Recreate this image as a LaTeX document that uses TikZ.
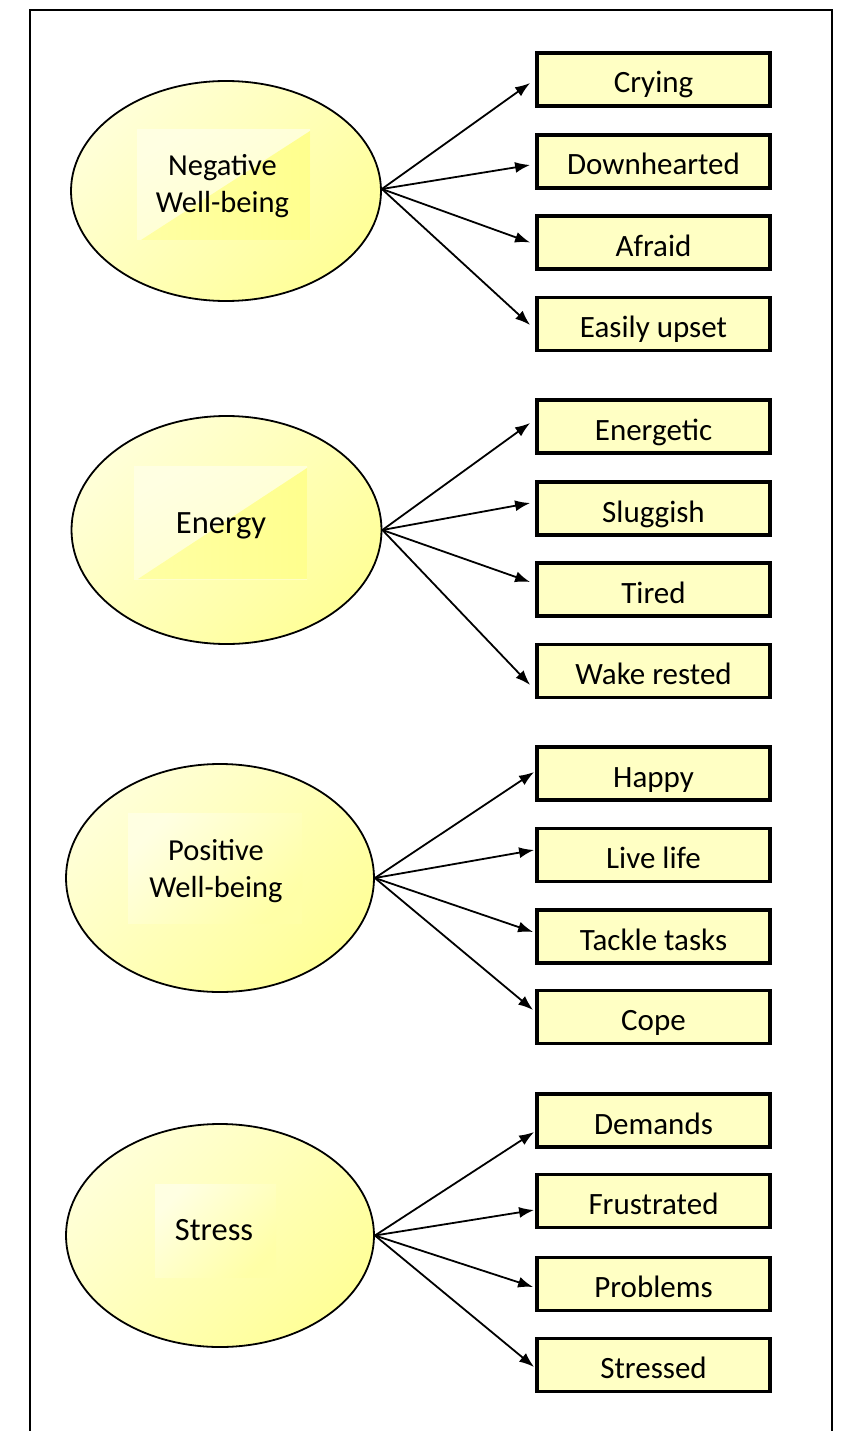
\documentclass[tikz,border=0pt]{standalone}
\usepackage{fontspec}
\setmainfont{Carlito}
\usetikzlibrary{shapes.geometric,arrows.meta}
\definecolor{boxfill}{HTML}{FFFFC4}
\definecolor{elllight}{HTML}{FFFFD8}
\definecolor{elldark}{HTML}{FFFF98}
\definecolor{rectlight}{HTML}{FFFFE2}
\definecolor{rectmid}{HTML}{FFFFCC}
\definecolor{tridark}{HTML}{FFFF8E}
\definecolor{trilight}{HTML}{FFFFA4}
\tikzset{
  framestyle/.style={line width=1.8pt, draw=black},
  latent/.style={ellipse, draw=black, line width=1.8pt, inner sep=0pt,
    top color=elllight, bottom color=elldark, shading angle=45},
  latenttext/.style={inner sep=0pt, font=\fontsize{30.5}{37}\selectfont},
  latentone/.style={inner sep=0pt, anchor=base, font=\fontsize{32.5}{38}\selectfont},
  indicator/.style={rectangle, draw=black, line width=3.8pt, fill=boxfill,
    minimum width=233pt, minimum height=53pt, inner sep=0pt,
    text height=30pt, text depth=3pt,
    font=\fontsize{31}{36}\selectfont},
  arr/.style={line width=1.8pt, -{Latex[length=15pt,width=11pt]}},
  rectdeco/.style={top color=rectlight, bottom color=rectmid, shading angle=30},
  tridecostyle/.style={left color=trilight, right color=tridark},
  softdeco/.style={top color=rectlight, bottom color=elldark!85!white, shading angle=45},
}
\begin{document}
\begin{tikzpicture}[x=1pt, y=-1pt]
\useasboundingbox (0,0) rectangle (847,1431);
\fill[white] (0,0) rectangle (847,1431);
\coordinate (fbl) at (30,1435);
\coordinate (ftl) at (30,10);
\coordinate (ftr) at (832,10);
\coordinate (fbr) at (832,1435);
\draw[framestyle] (fbl) -- (ftl) -- (ftr) -- (fbr);

% latent variables (shapes)
\node[latent, minimum width=310pt, minimum height=220pt] (e1) at (226,191) {};
\node[latent, minimum width=310pt, minimum height=228pt] (e2) at (226.5,530) {};
\node[latent, minimum width=308pt, minimum height=228pt] (e3) at (220,878) {};
\node[latent, minimum width=308pt, minimum height=223pt] (e4) at (220,1235.5) {};

% text-box backgrounds inside the ellipses
\shade[rectdeco] (137,130) rectangle (310,240);
\shade[tridecostyle] (141,240) -- (310,131) -- (310,240) -- cycle;
\shade[rectdeco] (134,466) rectangle (307,579);
\shade[tridecostyle] (138,579) -- (307,468) -- (307,579) -- cycle;
\shade[softdeco] (128,813) rectangle (302,923);
\shade[softdeco] (155,1184) rectangle (276,1277);

% latent labels
\node[latenttext] (t1) at (222.5,187) {\begin{tabular}{@{}c@{}}Negative\\Well-being\end{tabular}};
\node[latentone] (t2) at (221,533) {Energy};
\node[latenttext] (t3) at (216,871.5) {\begin{tabular}{@{}c@{}}Positive\\Well-being\end{tabular}};
\node[latentone] (t4) at (214,1240.5) {Stress};

% indicators
\node[indicator] (b1) at (653.5,79.5) {Crying};
\node[indicator] (b2) at (653.5,161.5) {Downhearted};
\node[indicator] (b3) at (653.5,242.5) {Afraid};
\node[indicator] (b4) at (653.5,324) {Easily upset};
\node[indicator] (b5) at (653.5,426.5) {Energetic};
\node[indicator] (b6) at (653.5,508.5) {Sluggish};
\node[indicator] (b7) at (653.5,589.5) {Tired};
\node[indicator] (b8) at (653.5,671) {Wake rested};
\node[indicator] (b9) at (653.5,773.5) {Happy};
\node[indicator] (b10) at (653.5,855) {Live life};
\node[indicator] (b11) at (653.5,936.5) {Tackle tasks};
\node[indicator] (b12) at (653.5,1017) {Cope};
\node[indicator] (b13) at (653.5,1120.5) {Demands};
\node[indicator] (b14) at (653.5,1201) {Frustrated};
\node[indicator] (b15) at (653.5,1284) {Problems};
\node[indicator] (b16) at (653.5,1365) {Stressed};

% connectors
\draw[arr] ([yshift=2pt]e1.east) -- ([xshift=-5pt,yshift=-3.5pt]b1.west);
\draw[arr] ([yshift=2pt]e1.east) -- ([xshift=-5pt,yshift=-3.5pt]b2.west);
\draw[arr] ([yshift=2pt]e1.east) -- ([xshift=-5pt,yshift=0pt]b3.west);
\draw[arr] ([yshift=2pt]e1.east) -- ([xshift=-5pt,yshift=-1pt]b4.west);

\draw[arr] (e2.east) -- ([xshift=-5pt,yshift=3.5pt]b5.west);
\draw[arr] (e2.east) -- ([xshift=-5pt,yshift=5.5pt]b6.west);
\draw[arr] (e2.east) -- ([xshift=-5pt,yshift=7.5pt]b7.west);
\draw[arr] (e2.east) -- ([xshift=-5pt,yshift=-14pt]b8.west);

\draw[arr] (e3.east) -- ([xshift=-1pt,yshift=1.5pt]b9.west);
\draw[arr] (e3.east) -- ([xshift=-1pt,yshift=5pt]b10.west);
\draw[arr] (e3.east) -- ([xshift=-2pt,yshift=4.5pt]b11.west);
\draw[arr] (e3.east) -- ([xshift=-2pt,yshift=7pt]b12.west);

\draw[arr] (e4.east) -- ([xshift=-1pt,yshift=-11.5pt]b13.west);
\draw[arr] (e4.east) -- ([xshift=-1pt,yshift=-9pt]b14.west);
\draw[arr] (e4.east) -- ([xshift=-2pt,yshift=-3pt]b15.west);
\draw[arr] (e4.east) -- ([xshift=-1pt,yshift=-2pt]b16.west);
\end{tikzpicture}
\end{document}
